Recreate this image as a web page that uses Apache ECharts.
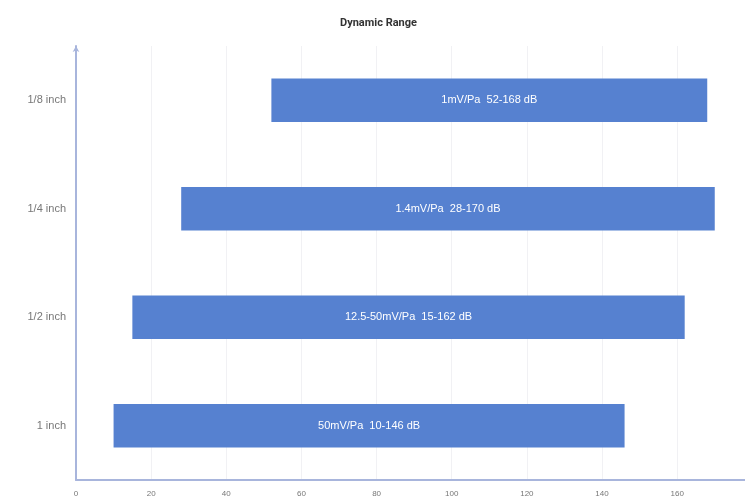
<!DOCTYPE html>
<html>
<head>
<meta charset="UTF-8">
<title>Dynamic Range</title>
<script src="https://cdn.jsdelivr.net/npm/echarts@6/dist/echarts.min.js"></script>
</head>
<body style="margin:0;overflow:hidden">
<!-- the original plot runs a little past the right edge, so the div is wider than the window -->
<div id="charts" style="width:762px;height:500px"></div>
<script type="text/javascript">
// categories bottom -> top
var mics = ['1 inch', '1/2 inch', '1/4 inch', '1/8 inch'];
var sens = ['50mV/Pa', '12.5-50mV/Pa', '1.4mV/Pa', '1mV/Pa'];
var lowDb = [10, 15, 28, 52];
var highDb = [146, 162, 170, 168];

var span = [];
for (var i = 0; i < mics.length; i++) {
	span.push(highDb[i] - lowDb[i]);
}

var axisCol = '#a8b5dc';
var mychart = echarts.init(document.getElementById('charts'));
var option = {
	backgroundColor: '#fff',
	title: {
		text: 'Dynamic Range',
		left: 335,
		top: 13,
		textStyle: { fontSize: 11, fontWeight: 'bold', color: '#333', fontFamily: 'Roboto' }
	},
	grid: { left: 76, right: 0, top: 46, bottom: 20 },
	xAxis: {
		type: 'value',
		min: 0,
		max: 180,
		interval: 20,
		axisLine: { show: true, lineStyle: { color: axisCol, width: 2 } },
		axisTick: { show: false },
		axisLabel: { color: '#777', fontSize: 8, margin: 10 },
		splitLine: { show: true, lineStyle: { color: '#f1f1f4' } }
	},
	yAxis: {
		type: 'category',
		data: mics,
		axisLine: { show: true, symbol: ['none', 'arrow'], symbolSize: [5, 6], lineStyle: { color: axisCol, width: 2 } },
		axisTick: { show: false },
		axisLabel: { color: '#777', fontSize: 11, margin: 10 },
		splitLine: { show: false }
	},
	series: [{
		name: 'base',
		type: 'bar',
		stack: 'r',
		barWidth: '40%',
		silent: true,
		itemStyle: { color: 'transparent' },
		data: lowDb
	}, {
		name: 'range',
		type: 'bar',
		stack: 'r',
		barWidth: '40%',
		itemStyle: { color: '#5681d0' },
		label: {
			show: true,
			position: 'inside',
			color: '#fff',
			fontSize: 11,
			formatter: function (p) {
				var k = p.dataIndex;
				return sens[k] + '  ' + lowDb[k] + '-' + highDb[k] + ' dB';
			}
		},
		data: span
	}]
};
mychart.setOption(option);
</script>
</body>
</html>
